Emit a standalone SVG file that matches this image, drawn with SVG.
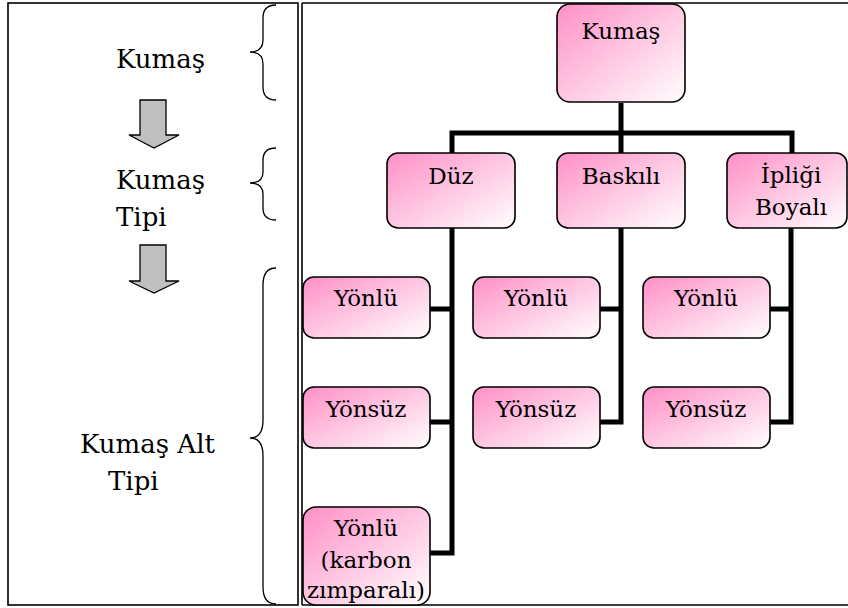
<svg xmlns="http://www.w3.org/2000/svg" width="848" height="608" viewBox="0 0 848 608">
<defs>
<linearGradient id="pink" x1="0" y1="0" x2="1" y2="1">
<stop offset="0" stop-color="#ff8fc6"/>
<stop offset="1" stop-color="#ffffff"/>
</linearGradient>
</defs>
<style>
.frame{fill:none;stroke:#000;stroke-width:1.6}
.brace{fill:none;stroke:#000;stroke-width:1.3}
.arrow{fill:#c0c0c0;stroke:#000;stroke-width:1.3}
.node{fill:url(#pink);stroke:#000;stroke-width:1.6}
.conn{fill:none;stroke:#000;stroke-width:5;stroke-linejoin:miter}
.lbl{font-family:'DejaVu Serif',serif;font-size:26px;fill:#000}
.nt{font-family:'DejaVu Serif',serif;font-size:23px;fill:#000;text-anchor:middle}
</style>
<rect width="848" height="608" fill="#fff"/>
<g id="frames">
<rect class="frame" x="8" y="3" width="290" height="602"/>
<path class="frame" d="M302,3 H848 M302,3 V605 M302,605 H848"/>
</g>
<g id="braces">
<path class="brace" d="M276,5 Q263,5 263,18 L263,40 Q263,52 250,52 Q263,52 263,64 L263,87 Q263,100 276,100"/>
<path class="brace" d="M276,148 Q263,148 263,160 L263,172 Q263,183 250,183 Q263,183 263,194 L263,208 Q263,220 276,220"/>
<path class="brace" d="M276,268 Q263,268 263,285 L263,420 Q263,438 250,438 Q263,438 263,456 L263,587 Q263,604 276,604"/>
</g>
<g id="arrows">
<path class="arrow" d="M140,100 H166 V135 H179 L154,148 L129,135 H140 Z"/>
<path class="arrow" d="M140,245 H166 V281 H179 L154,293 L129,281 H140 Z"/>
</g>
<g id="labels">
<text class="lbl" x="116" y="68">Kumaş</text>
<text class="lbl" x="116" y="189">Kumaş</text>
<text class="lbl" x="116" y="226">Tipi</text>
<text class="lbl" x="80" y="453">Kumaş Alt</text>
<text class="lbl" x="108" y="490">Tipi</text>
</g>
<g id="connectors">
<path class="conn" d="M621,103 V153 M452,153 V133 H792 V153"/>
<path class="conn" d="M452,228 V553 H430 M430,309 H452 M430,422 H452"/>
<path class="conn" d="M621,228 V422 H600 M600,309 H621"/>
<path class="conn" d="M791,228 V422 H770 M770,309 H791"/>
</g>
<g id="n-kumas">
<rect class="node" x="557" y="4" width="128" height="98" rx="13"/>
<text class="nt" x="621" y="39">Kumaş</text>
</g>
<g id="n-duz">
<rect class="node" x="387" y="153" width="128" height="75" rx="11"/>
<text class="nt" x="451" y="184">Düz</text>
</g>
<g id="n-baskili">
<rect class="node" x="557" y="153" width="128" height="75" rx="11"/>
<text class="nt" x="621" y="184">Baskılı</text>
</g>
<g id="n-iplik">
<rect class="node" x="727" y="153" width="120" height="75" rx="11"/>
<text class="nt" x="791" y="183">İpliği</text>
<text class="nt" x="791" y="215">Boyalı</text>
</g>
<g id="n-duz-yonlu">
<rect class="node" x="303" y="277" width="127" height="61" rx="11"/>
<text class="nt" x="366" y="306">Yönlü</text>
</g>
<g id="n-duz-yonsuz">
<rect class="node" x="303" y="387" width="127" height="61" rx="11"/>
<text class="nt" x="366" y="417">Yönsüz</text>
</g>
<g id="n-duz-karbon">
<rect class="node" x="303" y="507" width="127" height="98" rx="13"/>
<text class="nt" x="366" y="536">Yönlü</text>
<text class="nt" x="366" y="568">(karbon</text>
<text class="nt" x="366" y="598">zımparalı)</text>
</g>
<g id="n-bask-yonlu">
<rect class="node" x="473" y="277" width="127" height="61" rx="11"/>
<text class="nt" x="536" y="306">Yönlü</text>
</g>
<g id="n-bask-yonsuz">
<rect class="node" x="473" y="387" width="127" height="61" rx="11"/>
<text class="nt" x="536" y="417">Yönsüz</text>
</g>
<g id="n-ip-yonlu">
<rect class="node" x="643" y="277" width="127" height="61" rx="11"/>
<text class="nt" x="706" y="306">Yönlü</text>
</g>
<g id="n-ip-yonsuz">
<rect class="node" x="643" y="387" width="127" height="61" rx="11"/>
<text class="nt" x="706" y="417">Yönsüz</text>
</g>
</svg>
